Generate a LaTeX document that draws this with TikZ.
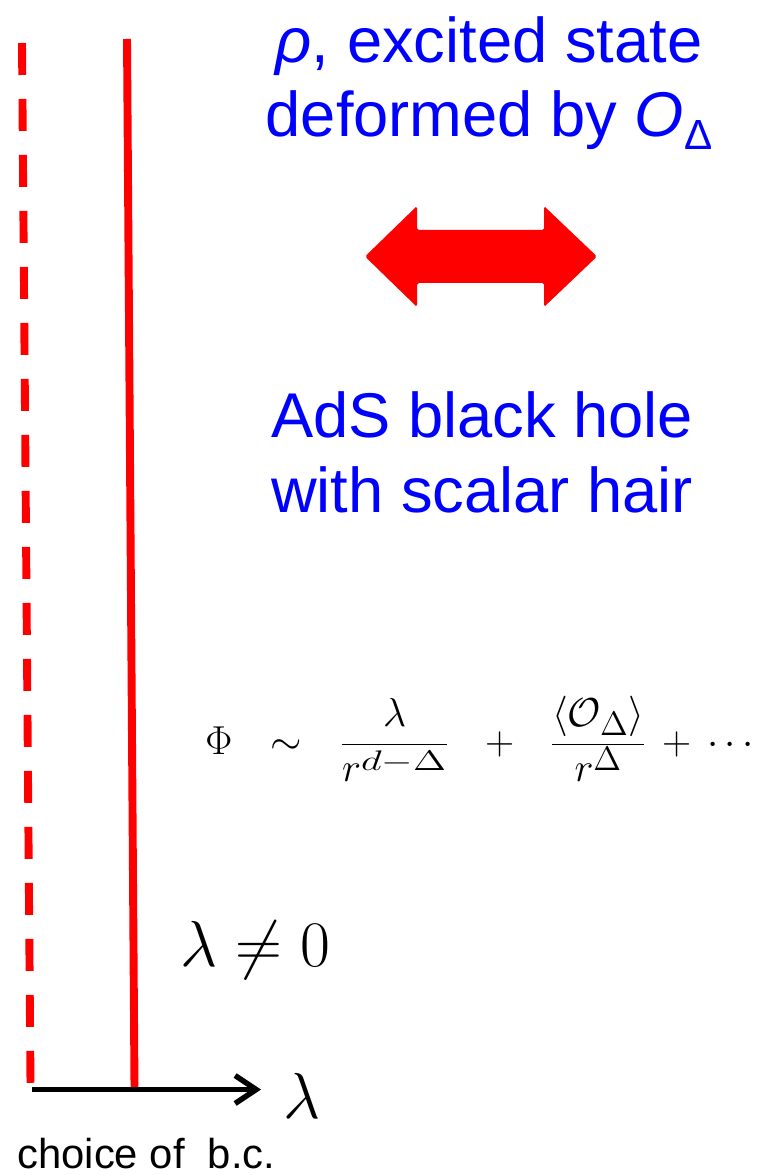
\RequirePackage{fix-cm}
\documentclass[tikz,border=0pt]{standalone}
\usepackage[no-math]{fontspec}
\setmainfont{Liberation Sans}
\usepackage{graphicx}
\usetikzlibrary{arrows.meta}

\begin{document}
\begin{tikzpicture}[x=0.02cm, y=-0.02cm,
    bluetext/.style={text=blue, align=center, inner sep=0pt, font=\fontsize{36}{42.5}\selectfont},
    redline/.style={draw=red, line width=4.5pt},
    mathlabel/.style={inner sep=0pt, anchor=base west, font=\fontsize{37}{40}\selectfont}]
    \useasboundingbox (0,0) rectangle (766,1175);

    % Boundary lines
    \coordinate (dashtop) at (22,43);
    \coordinate (dashbot) at (30.5,1083);
    \coordinate (soltop) at (127,39);
    \coordinate (solbot) at (134.5,1087);
    \draw[redline, dash pattern=on 0.64cm off 0.48cm] (dashtop) -- (dashbot);
    \draw[redline] (soltop) -- (solbot);

    % Axis
    \coordinate (origin) at (32,1089.5);
    \coordinate (axisend) at (261,1089.5);
    \draw[line width=3.1pt, -{Straight Barb[length=0.42cm, width=0.56cm]}] (origin) -- (axisend);
    \node[mathlabel] (lam) at (283,1118) {$\lambda$};

    % Double arrow
    \fill[red, rounded corners=1pt] (365,256.5) -- (417,206) -- (417,230) -- (544,230) -- (544,206)
        -- (597,256.5) -- (544,307) -- (544,283) -- (417,283) -- (417,307) -- cycle;

    % Labels
    \node[bluetext, anchor=base] (state) at (489,137)
        {{\itshape ρ}, excited state\\deformed by {\itshape O}\raisebox{-0.2em}{\fontsize{24}{24}\selectfont Δ}};
    \node[bluetext, anchor=base] (hole) at (482,512) {AdS black hole\\with scalar hair};
    \node[inner sep=0pt, anchor=base west, font=\fontsize{23}{27}\selectfont] (phi) at (205,754)
        {$\displaystyle \Phi \mskip12mu\sim\mskip12mu \frac{\lambda}{r^{\scalebox{1.43}[1]{$\scriptstyle d-\Delta$}}}
        \mskip12mu+\mskip12mu \frac{\langle\mathcal{O}_{\scalebox{1.2}{$\scriptstyle\Delta$}}\rangle}{r^{\scalebox{1.2}{$\scriptstyle\Delta$}}}
        \mskip3mu+\mskip3mu\cdots$};
    \node[mathlabel] (cond) at (180,966) {$\lambda\neq 0$};
    \node[inner sep=0pt, anchor=base west, font=\fontsize{23.8}{28}\selectfont] (bc) at (17,1168) {choice of~ b.c.};
\end{tikzpicture}
\end{document}
